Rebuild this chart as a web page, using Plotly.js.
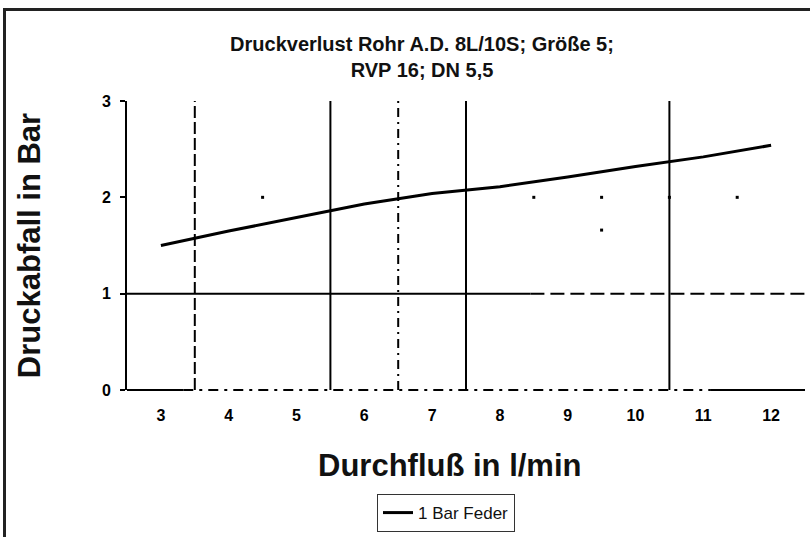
<!DOCTYPE html>
<html>
<head>
<meta charset="utf-8">
<script src="https://cdn.plot.ly/plotly-3.0.1.min.js"></script>
<style>
html,body{margin:0;padding:0;background:#fff;overflow:hidden;}
#wrap{position:relative;width:810px;height:537px;overflow:hidden;}
#chart{width:810px;height:537px;}
#frame{position:absolute;left:3px;top:8px;width:1000px;height:1000px;border-left:3px solid #222;border-top:3px solid #222;pointer-events:none;}
</style>
</head>
<body>
<div id="wrap"><div id="chart"></div><div id="frame"></div></div>
<script>
// ---- data ----
var flow = [3, 4, 5, 6, 7, 8, 9, 10, 11, 12];                       // l/min
var pressure = [1.50, 1.65, 1.79, 1.93, 2.04, 2.11, 2.21, 2.32, 2.42, 2.54]; // bar
var seriesName = "1 Bar Feder";
var xTickLabels = ["3", "4", "5", "6", "7", "8", "9", "10", "11", "12"];
var yTickVals = [0, 1, 2, 3];
var yTickLabels = ["0", "1", "2", "3"];
// vertical grid lines (between categories)
var vGridSolid = [5.5, 7.5, 10.5];
var vGridDashed = [3.5];
var vGridDashDot = [6.5];
// stray dots left over in the scan
var dotX = [4.5, 8.5, 9.5, 10.5, 11.5, 9.5];
var dotY = [2.0, 2.0, 2.0, 2.0, 2.0, 1.66];

var FONT = "Liberation Sans, Arial, Helvetica, sans-serif";
var xRange = [2.5, 12.5];
var yRange = [0, 3];

var shapes = [];
function vline(x, dash) {
  shapes.push({type: "line", xref: "x", yref: "y", x0: x, x1: x, y0: yRange[0], y1: yRange[1],
    line: {color: "#000", width: 2, dash: dash}});
}
vGridSolid.forEach(function (x) { vline(x, "solid"); });
vGridDashed.forEach(function (x) { vline(x, "12px,4px"); });
vGridDashDot.forEach(function (x) { vline(x, "9px,5px,2px,5px"); });

function hseg(y, xa, xb, dash, yref) {
  shapes.push({type: "line", xref: "x", yref: yref || "y", x0: xa, x1: xb, y0: y, y1: y,
    line: {color: "#000", width: 2, dash: dash}});
}
// y = 1 grid line: solid then broken
hseg(1, xRange[0], 8.45, "solid");
hseg(1, 8.45, xRange[1], "14px,6px");
// baseline (bottom of plot area, value 0) - paper ref so it is not clipped
hseg(0, xRange[0], 3.33, "solid", "paper");
hseg(0, 3.33, 11.1, "10px,6px,3px,6px", "paper");
hseg(0, 11.1, xRange[1], "solid", "paper");

var traces = [
  {x: flow, y: pressure, type: "scatter", mode: "lines", name: seriesName,
   line: {color: "#000", width: 3}},
  {x: dotX, y: dotY, type: "scatter", mode: "markers", showlegend: false, hoverinfo: "skip",
   marker: {color: "#000", size: 3, symbol: "square"}}
];

var layout = {
  width: 810, height: 537,
  margin: {l: 127, r: 5, t: 101, b: 145, pad: 0},
  paper_bgcolor: "#fff", plot_bgcolor: "#fff",
  font: {family: FONT, color: "#000"},
  title: {
    text: "Druckverlust Rohr A.D. 8L/10S; Größe 5;<br>RVP 16; DN 5,5",
    font: {family: FONT, size: 20, weight: "bold", color: "#111"},
    x: 0.521, xanchor: "center", xref: "container",
    y: 0.905, yanchor: "top", yref: "container"
  },
  xaxis: {
    range: xRange, tickvals: flow, ticktext: xTickLabels,
    showgrid: false, zeroline: false, showline: false, ticks: "",
    ticklabelstandoff: 14,
    tickfont: {family: FONT, size: 16, weight: "bold"},
    fixedrange: true
  },
  yaxis: {
    range: yRange, tickvals: yTickVals, ticktext: yTickLabels,
    showgrid: false, zeroline: false, showline: true, linecolor: "#000", linewidth: 2,
    ticks: "outside", ticklen: 5, tickwidth: 2, tickcolor: "#000",
    ticklabelstandoff: 6,
    tickfont: {family: FONT, size: 16, weight: "bold"},
    title: {text: "Druckabfall in Bar", font: {family: FONT, size: 31, weight: "bold", color: "#111"}, standoff: 52},
    fixedrange: true
  },
  annotations: [{
    text: "Durchfluß in l/min", xref: "paper", yref: "paper",
    x: (450 - 127) / 678, y: (391.5 - 468) / 291, xanchor: "center", yanchor: "middle",
    showarrow: false, font: {family: FONT, size: 31, weight: "bold", color: "#111"}
  }],
  showlegend: true,
  legend: {
    x: 0.4705, xanchor: "center", xref: "paper",
    y: -0.36, yanchor: "top", yref: "paper",
    orientation: "h",
    bgcolor: "#fff", bordercolor: "#333", borderwidth: 1,
    font: {family: FONT, size: 17, color: "#111"}
  },
  shapes: shapes
};

Plotly.newPlot("chart", traces, layout, {displayModeBar: false, staticPlot: true});
</script>
</body>
</html>
